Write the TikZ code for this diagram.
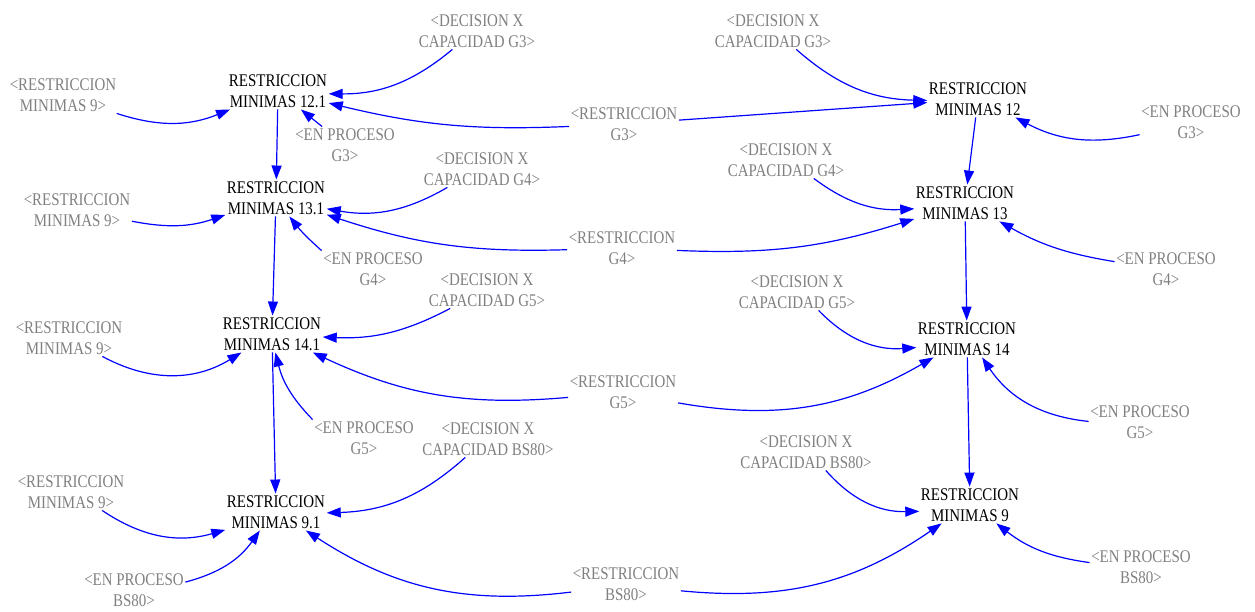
\documentclass[tikz,border=0pt]{standalone}
\usepackage{fontspec}
\setmainfont{Liberation Serif}[FakeStretch=0.84]
\usetikzlibrary{arrows.meta}
\definecolor{linkblue}{RGB}{0,0,255}
\definecolor{ghostgray}{RGB}{128,128,128}
\tikzset{
  var/.style={align=center, font=\fontsize{17.8}{21.5}\selectfont, inner sep=1.5pt, text=black},
  ghost/.style={var, text=ghostgray},
  link/.style={draw=linkblue, line width=1.2pt, -{Triangle[length=14pt,width=10pt]}},
}
\begin{document}
\begin{tikzpicture}[x=1pt, y=-1pt]
\useasboundingbox (0,0) rectangle (1255,611);

% main variables
\node[var] (m121) at (278,91)  {RESTRICCION\\MINIMAS 12.1};
\node[var] (m131) at (276,198) {RESTRICCION\\MINIMAS 13.1};
\node[var] (m141) at (272,334) {RESTRICCION\\MINIMAS 14.1};
\node[var] (m91)  at (276,512) {RESTRICCION\\MINIMAS 9.1};
\node[var] (m12)  at (978,99)  {RESTRICCION\\MINIMAS 12};
\node[var] (m13)  at (965,203) {RESTRICCION\\MINIMAS 13};
\node[var] (m14)  at (967,339) {RESTRICCION\\MINIMAS 14};
\node[var] (m9)   at (970,505) {RESTRICCION\\MINIMAS 9};

% shadow variables
\node[ghost] (dg3a) at (477,31)   {<DECISION X\\CAPACIDAD G3>};
\node[ghost] (dg3b) at (773,31)   {<DECISION X\\CAPACIDAD G3>};
\node[ghost] (r9a)  at (63,95)    {<RESTRICCION\\MINIMAS 9>};
\node[ghost] (pg3a) at (345,145)  {<EN PROCESO\\G3>};
\node[ghost] (rg3)  at (624,124)  {<RESTRICCION\\G3>};
\node[ghost] (pg3b) at (1191,122) {<EN PROCESO\\G3>};

\node[ghost] (dg4a) at (482,169)  {<DECISION X\\CAPACIDAD G4>};
\node[ghost] (dg4b) at (786,160)  {<DECISION X\\CAPACIDAD G4>};
\node[ghost] (r9b)  at (77,210)   {<RESTRICCION\\MINIMAS 9>};
\node[ghost] (pg4a) at (373,269)  {<EN PROCESO\\G4>};
\node[ghost] (rg4)  at (622,248)  {<RESTRICCION\\G4>};
\node[ghost] (pg4b) at (1166,269) {<EN PROCESO\\G4>};

\node[ghost] (dg5a) at (487,290)  {<DECISION X\\CAPACIDAD G5>};
\node[ghost] (dg5b) at (797,292)  {<DECISION X\\CAPACIDAD G5>};
\node[ghost] (r9c)  at (69,338)   {<RESTRICCION\\MINIMAS 9>};
\node[ghost] (pg5a) at (364,438)  {<EN PROCESO\\G5>};
\node[ghost] (rg5)  at (623,392)  {<RESTRICCION\\G5>};
\node[ghost] (pg5b) at (1140,422) {<EN PROCESO\\G5>};

\node[ghost] (dbsa) at (488,439)  {<DECISION X\\CAPACIDAD BS80>};
\node[ghost] (dbsb) at (806,452)  {<DECISION X\\CAPACIDAD BS80>};
\node[ghost] (r9d)  at (71,492)   {<RESTRICCION\\MINIMAS 9>};
\node[ghost] (pbsa) at (134,590)  {<EN PROCESO\\BS80>};
\node[ghost] (rbs)  at (626,584)  {<RESTRICCION\\BS80>};
\node[ghost] (pbsb) at (1141,567) {<EN PROCESO\\BS80>};

% links: G3 row
\draw[link] (r9a)  to[bend right=20] (m121);
\draw[link] (dg3a) to[bend left=20]  (m121);
\draw[link] (rg3)  to[bend left=8]   (m121);
\draw[link] (pg3a) -- (m121);
\draw[link] (rg3)  -- (m12);
\draw[link] (dg3b) to[bend right=20] (m12);
\draw[link] (pg3b) to[bend left=20]  (m12);
\draw[link] (m121) -- (m131);
\draw[link] (m12)  -- (m13);

% links: G4 row
\draw[link] (r9b)  to[bend right=15] (m131);
\draw[link] (dg4a) to[bend left=20]  (m131);
\draw[link] (rg4)  to[bend left=10]  (m131);
\draw[link] (pg4a.north west) to[bend left=5] (m131);
\draw[link] (rg4)  to[bend right=10] (m13);
\draw[link] (dg4b) to[bend right=20] (m13);
\draw[link] (pg4b) to[bend left=10]  (m13);
\draw[link] (m131) -- (m141);
\draw[link] (m13)  -- (m14);

% links: G5 row
\draw[link] (r9c)  to[bend right=30] (m141);
\draw[link] (dg5a) to[bend left=15]  (m141);
\draw[link] (rg5)  to[bend left=15]  (m141);
\draw[link] (pg5a.north west) to[bend left=15] (m141);
\draw[link] (rg5)  to[bend right=20] (m14);
\draw[link] (dg5b) to[bend right=25] (m14);
\draw[link] (pg5b) to[bend left=25]  (m14);
\draw[link] (m141) -- (m91);
\draw[link] (m14)  -- (m9);

% links: BS80 row
\draw[link] (r9d)  to[bend right=25] (m91);
\draw[link] (dbsa) to[bend left=20]  (m91);
\draw[link] (rbs)  to[bend left=20]  (m91);
\draw[link] (pbsa) to[bend right=20] (m91);
\draw[link] (rbs)  to[bend right=20] (m9);
\draw[link] (dbsb) to[bend right=25] (m9);
\draw[link] (pbsb) to[bend left=15]  (m9);
\end{tikzpicture}
\end{document}
